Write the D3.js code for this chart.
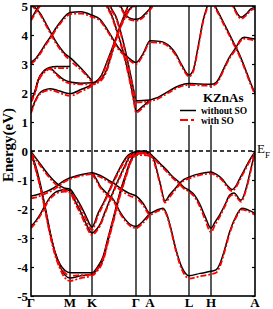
<!DOCTYPE html>
<html>
<head>
<meta charset="utf-8">
<script src="https://cdnjs.cloudflare.com/ajax/libs/d3/7.8.5/d3.min.js"></script>
<style>
    html, body { margin: 0; padding: 0; background: #fff; }
    svg { display: block; }
</style>
</head>
<body>
<div id="graphContainer"></div>
<script>
"use strict";

// Symmetry points along the k-path (distance along the path, arbitrary units)
const kTicks = [0, 39, 61, 105, 119, 158, 180, 224];
const kLabels = ["Γ", "M", "K", "Γ", "A", "L", "H", "A"];
const energyTicks = [-5, -4, -3, -2, -1, 0, 1, 2, 3, 4, 5];
const legendLabels = ["without SO", "with SO"];

// Bands without SO, each band is a list of [k, E (eV)]
const valenceNoSO = [
    [[0,-0.05],[5,-0.55],[9.75,-1.2],[14,-1.9],[19.5,-2.85],[24,-3.5],[29.25,-4.0],[34,-4.28],[39,-4.38],[50,-4.3],[61,-4.25],[66,-4.1],[72,-3.75],[77,-3.1],[83,-2.3],[89,-1.5],[94,-0.95],[99,-0.4],[105,-0.05],[112,-0.02],[119,-0.08],[122,-0.22],[128.75,-1.05],[134,-1.72],[138.5,-1.52],[144,-1.3],[149,-1.1],[153,-0.98],[158,-0.9],[169,-0.78],[180,-0.72],[185,-0.8],[191.7,-0.98],[196,-1.18],[201,-1.33],[205,-1.2],[208.3,-0.98],[213,-0.68],[218,-0.35],[224,-0.02]],
    [[0,-0.1],[5,-0.62],[9.75,-1.28],[14,-1.97],[19.5,-2.9],[24,-3.48],[29.25,-3.92],[34,-4.12],[39,-4.2],[50,-4.2],[61,-4.2],[66,-4.02],[72,-3.65],[77,-3.0],[83,-2.22],[89,-1.42],[94,-0.88],[99,-0.38],[105,-0.1],[112,-0.08],[119,-0.12],[124,-0.25],[128.75,-0.42],[135.7,-0.66],[141,-0.86],[148.25,-1.08],[153,-1.25],[158,-1.35],[163,-1.5],[169,-1.85],[174,-2.25],[180,-2.66],[184,-2.45],[188.7,-2.2],[194,-1.85],[198.7,-1.52],[203,-1.45],[210,-1.7],[215,-1.3],[220,-0.6],[224,-0.03]],
    [[0,-0.02],[7,-0.34],[17,-0.8],[27,-1.15],[33,-1.27],[39,-1.32],[44,-1.55],[50,-1.9],[55,-2.25],[61,-2.62],[67,-2.15],[73,-1.75],[79,-1.3],[85,-0.85],[91,-0.45],[97,-0.15],[105,-0.02],[112,0.0],[119,-0.05]],
    [[0,-2.6],[5,-2.4],[9.75,-2.15],[13.7,-1.9],[19,-1.6],[23.7,-1.44],[29,-1.36],[33.7,-1.33],[39,-1.38],[44,-1.72],[50,-2.12],[55,-2.5],[61,-2.83],[66,-2.68],[69,-2.53],[74,-2.1],[79,-1.67],[84,-1.25],[89,-0.86],[94,-0.5],[99,-0.17],[105,-0.05],[112,-0.03],[119,-0.1]],
    [[0,-1.55],[5,-1.52],[10.3,-1.46],[15,-1.4],[20.3,-1.32],[25,-1.22],[30.3,-1.09],[35,-0.99],[39,-0.93],[50,-0.82],[61,-0.75],[66,-0.8],[72,-0.89],[77,-1.0],[83,-1.12],[89,-1.27],[94,-1.38],[99,-1.47],[105,-1.55],[112,-1.8],[119,-2.15],[125,-2.05],[132,-1.97],[136,-2.2],[139,-2.55],[145,-3.4],[151,-4.02],[155,-4.24],[158,-4.3],[169,-4.22],[180,-4.15],[185,-4.1],[189,-3.88],[194,-3.35],[198.5,-2.8],[205,-2.25],[211,-1.97],[217,-2.03],[224,-2.15]],
    [[61,-0.75],[65,-0.95],[69,-1.2],[72,-1.33],[77,-1.5],[82.3,-1.67],[86,-1.9],[89,-2.1],[94,-2.35],[99,-2.53],[105,-2.6],[112,-2.42],[119,-2.15]]
];

const conductionNoSO = [
    [[0,1.35],[4,1.72],[8,1.97],[13,2.1],[19,2.15],[26,2.1],[33,2.02],[39,1.98],[50,2.12],[61,2.3],[70.3,2.6],[77,3.17],[85.3,3.92],[92,4.49],[98.7,4.9],[105,5.05],[112,5.2]],
    [[0,1.72],[4,2.05],[7,2.42],[13.7,2.77],[18.7,2.86],[25,2.68],[32,2.48],[39,2.38],[50,2.34],[61,2.35],[69,2.45],[75,2.75],[81,3.4],[88,4.2],[94,4.75],[98,5.1],[101,5.4]],
    [[0,1.74],[4,2.07],[7,2.44],[13.7,2.79],[18.7,2.88],[25.3,2.91],[37,2.91],[39,2.92]],
    [[0,3.05],[5,3.2],[10.3,3.46],[15,3.72],[20.3,3.98],[25,4.24],[30.3,4.49],[35,4.68],[39,4.78],[50,4.8],[61,4.68],[68.7,4.55],[77,4.15],[87,3.58],[97,3.23],[105,3.05],[112,3.35],[119,3.8],[129,3.78],[139,3.6],[145,3.34],[151,2.95],[158,2.62],[162,2.77],[167,3.57],[172,4.49],[177,5.07],[180,5.4]],
    [[0,5.1],[4,4.95],[9.75,4.72],[14,4.45],[19.5,4.1],[24,3.82],[29.25,3.55],[34,3.35],[39,3.22],[50,2.85],[61,2.42]],
    [[0,4.55],[3,4.72],[6,4.9],[9,5.05],[13,5.3]],
    [[73,5.3],[75.3,5.07],[80.3,4.72],[87,4.03],[93.7,3.23],[100.3,2.2],[103,1.72],[105,1.37],[112,1.55],[119,1.75],[127,1.85],[137,2.05],[148,2.25],[158,2.33],[169,2.31],[180,2.3],[185,2.36],[188,2.5],[191.7,2.77],[198.3,3.23],[205,3.57],[209,3.82],[213.3,3.92],[218,3.9],[224,3.86]],
    [[77,5.3],[78.7,5.07],[85.3,4.61],[92,3.8],[98.7,2.77],[103,2.05],[105,1.73],[112,1.74],[119,1.76]],
    [[85,5.3],[90.3,4.95],[95.3,4.67],[100.3,4.56],[105,4.54],[110,4.6],[117,4.84],[121,5.0],[126,5.3]],
    [[181,5.3],[183.3,5.07],[188.3,4.72],[195,4.26],[201.7,3.8],[208.3,3.34],[215,2.77],[220,2.31],[224,2.0]],
    [[199,5.3],[201.7,5.07],[206.7,4.72],[210,4.61],[215,4.72],[220,4.9],[224,4.95]]
];

// Bands with SO
const valenceSO = [
    [[0,-0.12],[5,-0.62],[9.75,-1.28],[14,-1.98],[19.5,-2.93],[24,-3.58],[29.25,-4.08],[34,-4.38],[39,-4.48],[50,-4.38],[61,-4.3],[66,-4.15],[72,-3.8],[77,-3.15],[83,-2.35],[89,-1.55],[94,-1.0],[99,-0.45],[105,-0.12],[112,-0.08],[119,-0.14],[122,-0.3],[128.75,-1.1],[134,-1.78],[138.5,-1.6],[144,-1.35],[149,-1.15],[153,-1.02],[158,-0.95],[169,-0.83],[180,-0.78],[185,-0.85],[191.7,-1.03],[196,-1.23],[201,-1.38],[205,-1.25],[208.3,-1.03],[213,-0.73],[218,-0.4],[224,-0.06]],
    [[0,-0.15],[5,-0.68],[9.75,-1.34],[14,-2.03],[19.5,-2.96],[24,-3.54],[29.25,-3.98],[34,-4.2],[39,-4.3],[50,-4.28],[61,-4.26],[66,-4.08],[72,-3.7],[77,-3.05],[83,-2.27],[89,-1.47],[94,-0.93],[99,-0.43],[105,-0.15],[112,-0.14],[119,-0.18],[124,-0.3],[128.75,-0.47],[135.7,-0.71],[141,-0.91],[148.25,-1.13],[153,-1.3],[158,-1.4],[163,-1.56],[169,-1.93],[174,-2.36],[180,-2.8],[184,-2.55],[188.7,-2.27],[194,-1.9],[198.7,-1.57],[203,-1.5],[210,-1.75],[215,-1.35],[220,-0.65],[224,-0.08]],
    [[0,-0.08],[7,-0.4],[17,-0.86],[27,-1.22],[33,-1.34],[39,-1.4],[44,-1.62],[50,-1.98],[55,-2.35],[61,-2.72],[67,-2.22],[73,-1.8],[79,-1.35],[85,-0.9],[91,-0.5],[97,-0.2],[105,-0.08],[112,-0.06],[119,-0.1]],
    [[0,-2.66],[5,-2.46],[9.75,-2.2],[13.7,-1.95],[19,-1.65],[23.7,-1.5],[29,-1.42],[33.7,-1.4],[39,-1.44],[44,-1.8],[50,-2.2],[55,-2.58],[61,-2.9],[66,-2.74],[69,-2.58],[74,-2.15],[79,-1.72],[84,-1.3],[89,-0.91],[94,-0.55],[99,-0.22],[105,-0.1],[112,-0.08],[119,-0.14]],
    [[0,-1.63],[5,-1.6],[10.3,-1.53],[15,-1.46],[20.3,-1.38],[25,-1.28],[30.3,-1.14],[35,-1.03],[39,-0.97],[50,-0.86],[61,-0.8],[66,-0.85],[72,-0.94],[77,-1.05],[83,-1.18],[89,-1.33],[94,-1.45],[99,-1.55],[105,-1.63],[112,-1.86],[119,-2.2],[125,-2.1],[132,-2.02],[136,-2.25],[139,-2.6],[145,-3.46],[151,-4.1],[155,-4.33],[158,-4.4],[169,-4.32],[180,-4.25],[185,-4.2],[189,-3.97],[194,-3.42],[198.5,-2.86],[205,-2.3],[211,-2.02],[217,-2.08],[224,-2.2]],
    [[61,-0.8],[65,-1.0],[69,-1.25],[72,-1.38],[77,-1.55],[82.3,-1.72],[86,-1.95],[89,-2.15],[94,-2.4],[99,-2.58],[105,-2.66],[112,-2.48],[119,-2.2]]
];

const conductionSO = [
    [[0,1.3],[4,1.68],[8,1.93],[13,2.05],[19,2.1],[26,2.04],[33,1.95],[39,1.9],[50,2.05],[61,2.25],[70.3,2.55],[77,3.12],[85.3,3.88],[92,4.45],[98.7,4.86],[105,5.02],[112,5.17]],
    [[0,1.68],[4,2.0],[7,2.37],[13.7,2.72],[18.7,2.82],[25,2.64],[32,2.43],[39,2.33],[50,2.3],[61,2.3],[69,2.4],[75,2.7],[81,3.35],[88,4.15],[94,4.7],[98,5.06],[101,5.35]],
    [[0,1.7],[4,2.02],[7,2.4],[13.7,2.75],[18.7,2.84],[25.3,2.86],[37,2.86],[39,2.88]],
    [[0,3.0],[5,3.15],[10.3,3.41],[15,3.67],[20.3,3.93],[25,4.19],[30.3,4.44],[35,4.62],[39,4.72],[50,4.74],[61,4.62],[68.7,4.5],[77,4.1],[87,3.53],[97,3.18],[105,3.0],[112,3.3],[119,3.75],[129,3.73],[139,3.55],[145,3.29],[151,2.9],[158,2.57],[162,2.72],[167,3.52],[172,4.44],[177,5.02],[180,5.35]],
    [[0,5.05],[4,4.9],[9.75,4.67],[14,4.4],[19.5,4.05],[24,3.77],[29.25,3.5],[34,3.3],[39,3.12],[50,2.8],[61,2.38]],
    [[0,4.5],[3,4.67],[6,4.85],[9,5.0],[13,5.25]],
    [[73,5.25],[75.3,5.02],[80.3,4.67],[87,3.98],[93.7,3.18],[100.3,2.15],[103,1.67],[105,1.32],[112,1.5],[119,1.7],[127,1.8],[137,2.0],[148,2.2],[158,2.28],[169,2.26],[180,2.25],[185,2.31],[188,2.45],[191.7,2.72],[198.3,3.18],[205,3.52],[209,3.77],[213.3,3.87],[218,3.85],[224,3.81]],
    [[77,5.25],[78.7,5.02],[85.3,4.56],[92,3.75],[98.7,2.72],[103,2.0],[105,1.68],[112,1.69],[119,1.71]],
    [[85,5.25],[90.3,4.9],[95.3,4.62],[100.3,4.51],[105,4.49],[110,4.55],[117,4.79],[121,4.95],[126,5.25]],
    [[181,5.25],[183.3,5.02],[188.3,4.67],[195,4.21],[201.7,3.75],[208.3,3.29],[215,2.72],[220,2.26],[224,1.95]],
    [[199,5.25],[201.7,5.02],[206.7,4.67],[210,4.56],[215,4.67],[220,4.85],[224,4.9]]
];

// Dimensions of the graph
const graphInfo = {
    width: 273,
    height: 309,
    marginTop: 6,
    marginBottom: 13,
    marginLeft: 31,
    marginRight: 18,
    font: "'Liberation Serif', 'Times New Roman', serif"
};

const svg = d3.select("#graphContainer").append("svg")
    .attr("width", graphInfo.width)
    .attr("height", graphInfo.height)
    .attr("font-family", graphInfo.font);

const xScale = d3.scaleLinear()
    .domain([kTicks[0], kTicks[kTicks.length - 1]])
    .range([graphInfo.marginLeft, graphInfo.width - graphInfo.marginRight]);

const yScale = d3.scaleLinear()
    .domain([-5, 5])
    .range([graphInfo.height - graphInfo.marginBottom, graphInfo.marginTop]);

const line = d3.line()
    .curve(d3.curveMonotoneX)
    .x(d => xScale(d[0]))
    .y(d => yScale(d[1]));

// Keep the bands inside the frame
svg.append("clipPath")
    .attr("id", "plotClip")
    .append("rect")
    .attr("x", xScale.range()[0])
    .attr("y", yScale.range()[1])
    .attr("width", xScale.range()[1] - xScale.range()[0])
    .attr("height", yScale.range()[0] - yScale.range()[1]);

// Vertical lines at the symmetry points
svg.append("g")
    .selectAll("line")
    .data(kTicks.slice(1, -1))
    .join("line")
    .attr("x1", d => xScale(d))
    .attr("x2", d => xScale(d))
    .attr("y1", yScale(-5))
    .attr("y2", yScale(5))
    .attr("stroke", "black")
    .attr("stroke-width", 1.3);

const bandGroup = svg.append("g").attr("clip-path", "url(#plotClip)");

// Without SO: solid black
bandGroup.append("g")
    .selectAll("path")
    .data(valenceNoSO.concat(conductionNoSO))
    .join("path")
    .attr("d", line)
    .attr("fill", "none")
    .attr("stroke", "black")
    .attr("stroke-width", 1.5);

// With SO: red dash-dot on top
bandGroup.append("g")
    .selectAll("path")
    .data(valenceSO.concat(conductionSO))
    .join("path")
    .attr("d", line)
    .attr("fill", "none")
    .attr("stroke", "#ff0000")
    .attr("stroke-width", 1.8)
    .attr("stroke-dasharray", "6,2,2,2");

// Fermi level
svg.append("line")
    .attr("x1", xScale.range()[0])
    .attr("x2", xScale.range()[1])
    .attr("y1", yScale(0))
    .attr("y2", yScale(0))
    .attr("stroke", "black")
    .attr("stroke-width", 1.3)
    .attr("stroke-dasharray", "4,3");

// Frame
svg.append("rect")
    .attr("x", xScale.range()[0])
    .attr("y", yScale.range()[1])
    .attr("width", xScale.range()[1] - xScale.range()[0])
    .attr("height", yScale.range()[0] - yScale.range()[1])
    .attr("fill", "none")
    .attr("stroke", "black")
    .attr("stroke-width", 1.6);

// Energy axis with inward ticks
svg.append("g")
    .attr("transform", `translate(${xScale.range()[0]},0)`)
    .call(d3.axisLeft(yScale).tickValues(energyTicks).tickSize(-3).tickPadding(3).tickFormat(d => String(d)))
    .call(g => g.select(".domain").remove())
    .call(g => g.selectAll(".tick line").attr("stroke-width", 1.2))
    .call(g => g.selectAll(".tick text")
        .attr("font-family", graphInfo.font)
        .attr("font-size", 13)
        .attr("font-weight", "bold")
        .attr("fill", "black"));

svg.append("g")
    .attr("transform", `translate(${xScale.range()[1]},0)`)
    .call(d3.axisRight(yScale).tickValues(energyTicks).tickSize(-3).tickFormat(""))
    .call(g => g.select(".domain").remove())
    .call(g => g.selectAll(".tick line").attr("stroke-width", 1.2));

// Symmetry labels
svg.append("g")
    .selectAll("text")
    .data(kTicks)
    .join("text")
    .attr("x", d => xScale(d))
    .attr("y", 307)
    .attr("text-anchor", "middle")
    .attr("font-size", 13)
    .attr("font-weight", "bold")
    .text((d, i) => kLabels[i]);

// Axis title
svg.append("text")
    .attr("transform", "translate(13,145) rotate(-90)")
    .attr("text-anchor", "middle")
    .attr("font-size", 15)
    .attr("font-weight", "bold")
    .text("Energy(eV)");

// E_F label
const ef = svg.append("text")
    .attr("x", 257)
    .attr("y", 153)
    .attr("font-size", 13);
ef.append("tspan").text("E");
ef.append("tspan").attr("font-size", 9).attr("dy", 5).text("F");

// Legend, on a white box that hides the symmetry lines behind it
svg.append("rect")
    .attr("x", 177)
    .attr("y", 88)
    .attr("width", 73)
    .attr("height", 37)
    .attr("fill", "white");

svg.append("text")
    .attr("x", 203)
    .attr("y", 102)
    .attr("font-size", 13)
    .attr("font-weight", "bold")
    .text("KZnAs");

const legend = svg.append("g")
    .selectAll("g")
    .data(legendLabels)
    .join("g")
    .attr("transform", (d, i) => `translate(180,${110.5 + i * 9.5})`);

legend.append("line")
    .attr("x1", 0)
    .attr("x2", 16)
    .attr("stroke", (d, i) => i === 0 ? "black" : "#ff0000")
    .attr("stroke-width", (d, i) => i === 0 ? 1.5 : 1.8)
    .attr("stroke-dasharray", (d, i) => i === 0 ? null : "8,3,3,3");

legend.append("text")
    .attr("x", 21)
    .attr("y", 3.5)
    .attr("font-size", 9.5)
    .attr("font-weight", "bold")
    .text(d => d);
</script>
</body>
</html>
